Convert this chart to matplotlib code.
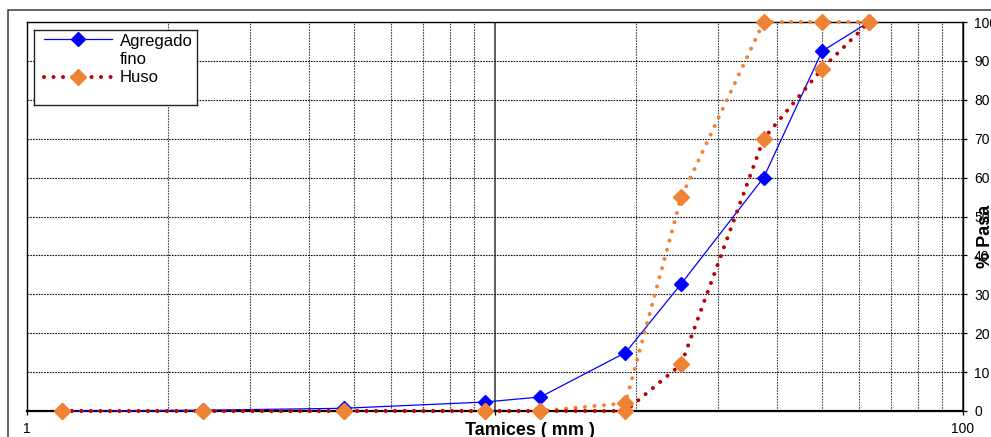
import matplotlib
matplotlib.use("Agg")
import matplotlib.pyplot as plt
from matplotlib.patches import Rectangle
from matplotlib.ticker import FixedLocator, FixedFormatter, NullFormatter
from matplotlib.transforms import Bbox

plt.rcParams['font.family'] = ['Liberation Sans', 'DejaVu Sans']

# Sieve openings (mm) and cumulative percent passing
tamices = [1.19, 2.38, 4.76, 9.5, 12.5, 19.0, 25.0, 37.5, 50.0, 63.0]
agregado_fino = [0.0, 0.2, 0.7, 2.3, 3.6, 15.0, 32.7, 60.0, 92.5, 100.0]
huso_superior = [0, 0, 0, 0, 0, 2, 55, 100, 100, 100]
huso_inferior = [0, 0, 0, 0, 0, 0, 12, 70, 88, 100]

y_ticks = list(range(0, 101, 10))
x_major = [1, 10, 100]
x_major_labels = ['1', '', '100']
x_minor = [2, 3, 4, 5, 6, 7, 8, 9, 20, 30, 40, 50, 60, 70, 80, 90]

AZUL = '#0000FF'
NARANJA = '#EF8233'
ROJO = '#C00000'

W, H = 991, 437
fig = plt.figure(figsize=(W / 100, H / 100), dpi=100)
fig.patch.set_facecolor('white')

# chart-area border
fig.add_artist(Rectangle((8 / W, -0.2), 1.5, 1.2 - 10 / H, transform=fig.transFigure,
                         fill=False, edgecolor='#3a3a3a', lw=1.1, zorder=0))

ax = fig.add_axes([27 / W, 1 - 411 / H, 936 / W, 389 / H])
ax.set_xscale('log')
ax.set_xlim(1, 100)
ax.set_ylim(0, 100)

# grid
ax.xaxis.set_major_locator(FixedLocator(x_major))
ax.xaxis.set_major_formatter(FixedFormatter(x_major_labels))
ax.xaxis.set_minor_locator(FixedLocator(x_minor))
ax.xaxis.set_minor_formatter(NullFormatter())
ax.set_yticks(y_ticks)
ax.grid(which='minor', axis='x', color='#444444', lw=0.8, linestyle=(0, (1.5, 1)))
ax.grid(which='major', axis='x', color='#333333', lw=1.1, linestyle='-')
ax.grid(which='major', axis='y', color='#111111', lw=0.8, linestyle=(0, (1.5, 1)))
ax.set_axisbelow(True)

for s in ax.spines.values():
    s.set_color('black')
    s.set_linewidth(1.0)
ax.spines['bottom'].set_linewidth(1.6)

ax.yaxis.tick_right()
ax.tick_params(axis='y', which='major', direction='out', length=3, width=0.9,
               labelsize=10, pad=5, colors='black')
ax.tick_params(axis='x', which='major', direction='out', length=3, width=0.9,
               labelsize=10, pad=5)
ax.tick_params(axis='x', which='minor', length=0)

dot = (0, (0.01, 2.35))
ax.plot(tamices, agregado_fino, color=AZUL, lw=0.9, marker='D', ms=7.5,
        mfc=AZUL, mec=AZUL, zorder=3, clip_on=False)
ax.plot(tamices, huso_superior, color=NARANJA, lw=2.9, linestyle=dot,
        dash_capstyle='round', zorder=4, clip_on=False)
ax.plot(tamices, huso_inferior, color=ROJO, lw=2.9, linestyle=dot,
        dash_capstyle='round', zorder=4, clip_on=False)
for serie in (huso_superior, huso_inferior):
    ax.plot(tamices, serie, linestyle='none', marker='D', ms=8.5,
            mfc=NARANJA, mec=NARANJA, zorder=5, clip_on=False)

# axis titles
fig.text(530 / W, 1 - 435 / H, 'Tamices ( mm )', ha='center', va='baseline',
         fontsize=13, fontweight='bold')
ylab = fig.text(976.5 / W, 1 - 268 / H, '% Pasa', rotation=90, ha='left', va='bottom',
                fontsize=13, fontweight='bold')
ylab.set_clip_box(Bbox.from_extents(0, 0, W, H - 203))
ylab.set_clip_on(True)

# legend box
lax = fig.add_axes([34 / W, 1 - 105 / H, 163 / W, 75 / H])
lax.set_xlim(0, 163)
lax.set_ylim(75, 0)
lax.set_xticks([])
lax.set_yticks([])
lax.set_facecolor('white')
for s in lax.spines.values():
    s.set_color('#222222')
    s.set_linewidth(1.0)
lax.plot([10, 78], [9, 9], color=AZUL, lw=0.9)
lax.plot([44], [9], marker='D', ms=7.5, color=AZUL)
lax.plot([10, 78], [47, 47], color=ROJO, lw=2.9, linestyle=dot, dash_capstyle='round')
lax.plot([44], [47], marker='D', ms=8.5, color=NARANJA)
lax.text(86, 34, 'Agregado\nfino', fontsize=12, va='baseline', ha='left', linespacing=1.27)
lax.text(86, 52, 'Huso', fontsize=12, va='baseline', ha='left')

fig.savefig('out.png', dpi=100, facecolor='white')
